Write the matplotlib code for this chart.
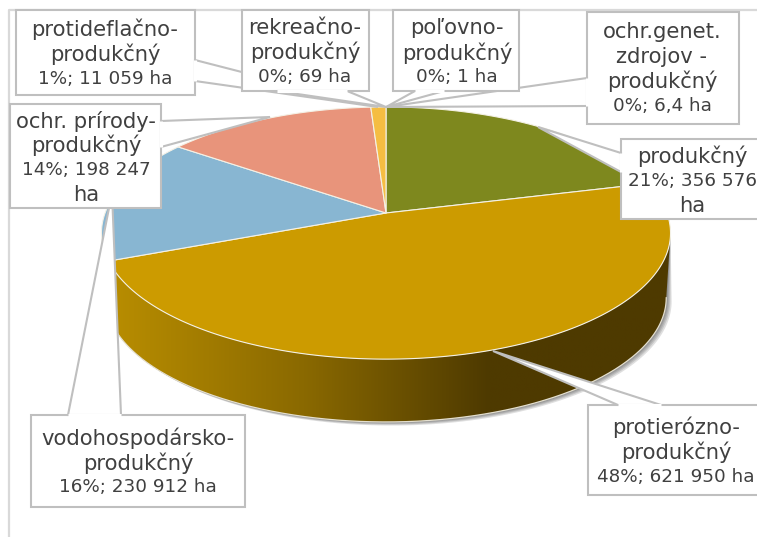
import numpy as np
import matplotlib
matplotlib.use("Agg")
import matplotlib.pyplot as plt
from matplotlib.colors import LinearSegmentedColormap
from matplotlib.patches import Polygon

categories = [
    "produkčný",
    "protierózno-\nprodukčný",
    "vodohospodársko-\nprodukčný",
    "ochr. prírody-\nprodukčný",
    "protideflačno-\nprodukčný",
    "rekreačno-\nprodukčný",
    "poľovno-\nprodukčný",
    "ochr.genet.\nzdrojov -\nprodukčný",
]
percents = [21, 48, 16, 14, 1, 0, 0, 0]
areas = ["356 576\nha", "621 950 ha", "230 912 ha", "198 247\nha",
         "11 059 ha", "69 ha", "1 ha", "6,4 ha"]

colors = ["#7e881e", "#cc9b00", "#88b6d2", "#e8947b", "#f5bd42",
          "#c8a0a0", "#a0c0a0", "#a0a0c0"]

W, H = 757, 537
CX, CY = 386, 213
A, B, K = 280.9, 122.9, 0.159   # perspective of the pie disc
DEPTH, SHRINK = 65, 0.985


def rim(t0, t1, bottom=False):
    t = np.radians(np.linspace(t0, t1, max(2, int(abs(t1 - t0) * 2))))
    d = 1 + K * np.cos(t)
    x = A * np.sin(t) / d
    y = -B * np.cos(t) / d
    if bottom:
        return CX + SHRINK * x, CY + DEPTH + SHRINK * y
    return CX + x, CY + y


fig = plt.figure(figsize=(W / 100, H / 100), dpi=100)
ax = fig.add_axes([0, 0, 1, 1])
ax.axis("off")

# chart frame
ax.plot([9, 9, W], [H, 10, 10], color="#d9d9d9", lw=1.6, zorder=1)

cum = np.cumsum([0] + percents) * 3.6
# the side starts where the disc is widest, the part before it is hidden
side_start = max(cum[1], np.degrees(np.arccos(-K)))
side_end = cum[2]

xt, yt = rim(side_start, side_end)
xb, yb = rim(side_start, side_end, bottom=True)
side_pts = np.column_stack([np.r_[xt, xb[::-1]], np.r_[yt, yb[::-1]]])

# soft shadow below the side
for off in [6, 4.5, 3.2, 2, 1]:
    shifted = np.column_stack([np.r_[xt, xb[::-1] + off * 0.9], np.r_[yt, yb[::-1] + off * 0.6]])
    ax.add_patch(Polygon(shifted, closed=True, fc="#444444", ec="none", alpha=0.17, zorder=2))

# side of the big slice with the horizontal gradient
cmap = LinearSegmentedColormap.from_list(
    "side", [(0, "#b88d00"), (0.34, "#8a6900"), (0.67, "#4e3a00"), (1, "#4e3a00")])
im = ax.imshow(np.linspace(0, 1, 256).reshape(1, -1), cmap=cmap, aspect="auto",
               extent=(112, 675, 430, 210), zorder=3)
im.set_clip_path(Polygon(side_pts, closed=True, transform=ax.transData))
ax.plot(xb, yb, color="#e4dfcf", lw=0.9, zorder=4)

# top of the pie
for i, p in enumerate(percents):
    if p == 0:
        continue
    x, y = rim(cum[i], cum[i + 1])
    ax.fill(np.r_[CX, x], np.r_[CY, y], fc=colors[i], ec="#f4f1e6", lw=0.8, zorder=5,
            joinstyle="round")

# callouts: box, tail and text centre
callouts = [
    (4, (16, 10, 195, 95), [(195, 60), (378, 107), (195, 81)], (105, 54)),
    (5, (242, 10, 369, 91), [(277, 91), (386, 107), (347, 91)], (305, 52)),
    (7, (587, 12, 739, 124), [(587, 78), (386, 107), (587, 106)], (662, 69)),
    (6, (393, 10, 519, 91), [(415, 91), (386, 107), (444, 91)], (457, 53)),
    (0, (621, 139, 775, 219), [(621, 153), (538, 127), (621, 172)], (692, 181)),
    (1, (588, 405, 775, 495), [(618, 405), (493, 351), (661, 405)], (676, 452)),
    (2, (31, 415, 245, 507), [(68, 415), (112, 193), (121, 415)], (138, 463)),
    (3, (10, 104, 161, 208), [(161, 121), (270, 117), (161, 147)], (86, 158)),
]

LINE_STEP = 24.5
for n, (i, box, tail, centre) in enumerate(callouts):
    x0, y0, x1, y1 = box
    z = 6 + n
    ax.add_patch(Polygon([(x0, y0), (x1, y0), (x1, y1), (x0, y1)], closed=True, fc="white",
                         ec="#bfbfbf", lw=1.5, zorder=z))
    ax.add_patch(Polygon(tail, closed=True, fc="white", ec="#bfbfbf", lw=1.5, zorder=z))
    # hide the seam between the box and its tail
    ax.plot([tail[0][0], tail[2][0]], [tail[0][1], tail[2][1]], color="white", lw=2.2,
            zorder=z, solid_capstyle="butt")
    label = categories[i] + "\n" + str(percents[i]) + "%; " + areas[i]
    lines = label.split("\n")
    for k, line in enumerate(lines):
        # digits of the original face are narrow, letters wide
        size = 13.2 if "%" in line else 15.2
        y = centre[1] + (k - (len(lines) - 1) / 2) * LINE_STEP
        ax.text(centre[0], y, line, ha="center", va="center", fontsize=size,
                family="DejaVu Sans", color="#404040", zorder=z)

ax.set_xlim(0, W)
ax.set_ylim(H, 0)
fig.savefig("out.png", dpi=100, facecolor="white")
